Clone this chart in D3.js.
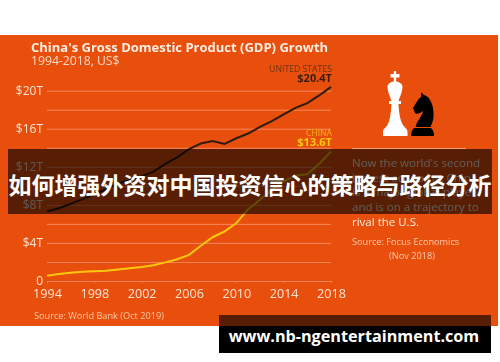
<!DOCTYPE html>
<html>
<head>
<meta charset="utf-8">
<style>
  html, body { margin: 0; padding: 0; background: #fff; }
  svg { display: block; }
  .chart text { font-family: "Open Sans", sans-serif; }
  .axis .domain { display: none; }
</style>
</head>
<body>
<svg width="500" height="362"></svg>
<script src="https://d3js.org/d3.v7.min.js"></script>
<script>
// GDP in trillions of US$
var years = [1994,1995,1996,1997,1998,1999,2000,2001,2002,2003,2004,2005,2006,2007,2008,2009,2010,2011,2012,2013,2014,2015,2016,2017,2018];
var usGdp = [7.3,7.65,8.1,8.6,9.1,9.65,10.25,10.6,11,11.5,12.3,13,13.85,14.45,14.7,14.4,15,15.5,16.2,16.8,17.5,18.2,18.7,19.5,20.4];
var chinaGdp = [0.56,0.73,0.86,0.96,1.03,1.09,1.21,1.34,1.47,1.66,1.96,2.29,2.75,3.7,4.6,5.2,6.09,7.55,8.53,9.57,10.48,11.06,11.23,12.31,13.6];
var gridValues = [0,2,4,6,8,10,12,14,16,18,20];
var yearTicks = [1994,1998,2002,2006,2010,2014,2018];
var sideText = ["Now the world's second", "largest economy, China", "is a major global player", "and is on a trajectory to", "rival the U.S."];

var svg = d3.select("svg");

// everything from the source image sits in a slightly soft layer
var defs = svg.append("defs");
defs.append("filter").attr("id", "soft").append("feGaussianBlur").attr("stdDeviation", 0.4);

var chart = svg.append("g").attr("class", "chart").attr("filter", "url(#soft)");

chart.append("rect").attr("x", 0).attr("y", 35).attr("width", 498).attr("height", 291).attr("fill", "#e8500e");

var x = d3.scaleLinear().domain([1994, 2018]).range([47, 331]);
var y = d3.scaleLinear().domain([0, 20]).range([281, 90.7]);

// y axis and gridlines
var yAxis = d3.axisLeft(y)
  .tickValues(gridValues)
  .tickSize(-284)
  .tickPadding(4)
  .tickFormat(function(d) {
    if (d === 0) return "0";
    return d % 4 === 0 ? "$" + d + "T" : "";
  });

var yG = chart.append("g").attr("class", "axis")
  .attr("transform", "translate(47,0)")
  .call(yAxis);
yG.selectAll("line").attr("stroke", "#f4845a").attr("stroke-width", 1);
yG.selectAll("text").attr("fill", "#fbe3d2").attr("font-size", 12);

// x axis
var xAxis = d3.axisBottom(x)
  .tickValues(yearTicks)
  .tickSize(2)
  .tickPadding(6)
  .tickFormat(d3.format("d"));

var xG = chart.append("g").attr("class", "axis")
  .attr("transform", "translate(0,281)")
  .call(xAxis);
xG.selectAll("line").attr("stroke", "#f4845a");
xG.selectAll("text").attr("fill", "#fbe3d2").attr("font-size", 12.6);

// lines
var line = d3.line()
  .x(function(d, i) { return x(years[i]); })
  .y(function(d) { return y(d); });

chart.append("path").datum(usGdp)
  .attr("d", line).attr("fill", "none")
  .attr("stroke", "#2e1a10").attr("stroke-width", 2);

chart.append("path").datum(chinaGdp)
  .attr("d", line).attr("fill", "none")
  .attr("stroke", "#fdc70c").attr("stroke-width", 2);

// titles
chart.append("text").attr("x", 31).attr("y", 52)
  .attr("font-size", 13).attr("font-weight", 700).attr("fill", "#fdeee2")
  .text("China's Gross Domestic Product (GDP) Growth");
chart.append("text").attr("x", 31).attr("y", 65)
  .attr("font-size", 12.2).attr("fill", "#fbd9c2")
  .text("1994-2018, US$");

// end labels
chart.append("text").attr("x", 332).attr("y", 72).attr("text-anchor", "end")
  .attr("font-size", 8.7).attr("fill", "#6e3214").text("UNITED STATES");
chart.append("text").attr("x", 332).attr("y", 82).attr("text-anchor", "end")
  .attr("font-size", 11).attr("font-weight", 700).attr("fill", "#3a1f10").text("$20.4T");
chart.append("text").attr("x", 332).attr("y", 136).attr("text-anchor", "end")
  .attr("font-size", 8.6).attr("fill", "#f9b015").text("CHINA");
chart.append("text").attr("x", 332).attr("y", 146).attr("text-anchor", "end")
  .attr("font-size", 11).attr("font-weight", 700).attr("fill", "#fdc70c").text("$13.6T");

// source lines
chart.append("text").attr("x", 34).attr("y", 319)
  .attr("font-size", 9.2).attr("fill", "#f8c9a8").text("Source: World Bank (Oct 2019)");

// side panel
chart.append("line").attr("x1", 352).attr("x2", 466).attr("y1", 148.5).attr("y2", 148.5)
  .attr("stroke", "#f0a078").attr("stroke-width", 1);

chart.selectAll(".side").data(sideText).enter().append("text")
  .attr("class", "side")
  .attr("x", 352)
  .attr("y", function(d, i) { return 167 + i * 14.7; })
  .attr("font-size", 11.5)
  .attr("fill", "#fdeee2")
  .text(function(d) { return d; });

chart.append("text").attr("x", 352).attr("y", 245)
  .attr("font-size", 9.2).attr("fill", "#f8c9a8").text("Source: Focus Economics");
chart.append("text").attr("x", 412).attr("y", 259).attr("text-anchor", "middle")
  .attr("font-size", 9.2).attr("fill", "#f8c9a8").text("(Nov 2018)");

// chess pieces
chart.append("path").attr("fill", "#fff").attr("d",
  "M393.8 71H396.2V74H399.5V77.5H396.2V81.5C399 82 402.5 83.5 402.5 87C402.5 92 400 96 398.5 101H401V104H398.5" +
  "C399 113 400 120 403 125C405 128 407.5 129 407.5 132V136H383V132C383 129 385.5 128 387.5 125" +
  "C390 120 391 113 391.5 104H389V101H391.5C390 96 387.5 92 387.5 87C387.5 83.5 391 82 393.8 81.5V77.5H390.5V74H393.8Z");
chart.append("path").attr("fill", "#000").attr("d",
  "M414 128H431C433 130 434 132 434 136H411C411 132 412 130 414 128Z" +
  "M415.5 127C417 120 422 117 423 111C420 113 417 115 415 113L413 108C416 103 418 99 421 97L421 92L424 95" +
  "C431 97 434 107 433.5 116C433.5 121 431.5 124 430.5 127Z");

// banner and watermark laid over the image
svg.append("rect").attr("x", 8).attr("y", 149).attr("width", 484).attr("height", 65)
  .attr("fill", "#000").attr("fill-opacity", 0.62);
svg.append("text").attr("x", 250).attr("y", 194).attr("text-anchor", "middle")
  .attr("font-family", "'Noto Sans CJK SC', sans-serif").attr("font-size", 23).attr("font-weight", 700)
  .attr("fill", "#fff")
  .text("如何增强外资对中国投资信心的策略与路径分析");

svg.append("rect").attr("x", 219).attr("y", 315).attr("width", 272).attr("height", 11)
  .attr("fill", "#000").attr("fill-opacity", 0.62);
svg.append("rect").attr("x", 219).attr("y", 326).attr("width", 272).attr("height", 27)
  .attr("fill", "#000");
svg.append("text").attr("x", 354).attr("y", 342).attr("text-anchor", "middle")
  .attr("font-family", "'Open Sans', sans-serif").attr("font-size", 16.2).attr("font-weight", 700)
  .attr("fill", "#fff")
  .text("www.nb-ngentertainment.com");
</script>
</body>
</html>
